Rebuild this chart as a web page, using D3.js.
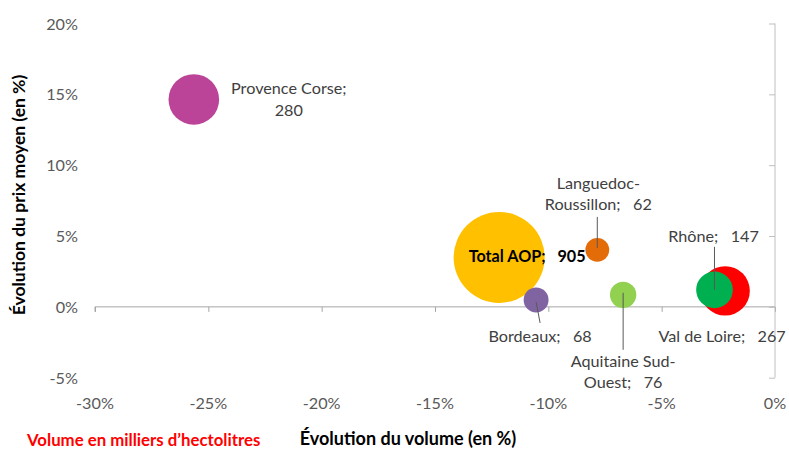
<!DOCTYPE html>
<html><head><meta charset="utf-8">
<script src="https://cdn.jsdelivr.net/npm/d3@7"></script>
<style>
html,body{margin:0;padding:0;background:#fff;}
svg{display:block;font-family:Lato,"Open Sans",sans-serif;}
text{white-space:pre;}
</style></head>
<body><svg id="chart" width="789" height="449"></svg>
<script>
// ---- data ----
const regions = ["Total AOP","Provence Corse","Languedoc-Roussillon","Bordeaux","Aquitaine Sud-Ouest","Val de Loire","Rhône"];
const volumeChange = [-12.17, -25.64, -7.84, -10.54, -6.7, -2.2, -2.67];   // % (x)
const priceChange  = [3.49, 14.64, 4.02, 0.49, 0.85, 1.13, 1.2];          // % (y)
const volumes      = [905, 280, 62, 68, 76, 267, 147];                     // milliers d'hl
const labelLines   = [["Total AOP;   905"],["Provence Corse;","280"],["Languedoc-","Roussillon;   62"],["Bordeaux;   68"],["Aquitaine Sud-","Ouest;   76"],["Val de Loire;   267"],["Rhône;   147"]];
const xTicks = [-30,-25,-20,-15,-10,-5,0];
const yTicks = [-5,0,5,10,15,20];
const colors = ["#FFC000","#BB4499","#E36C09","#8064A2","#92D050","#FF0000","#00B050"];

// ---- layout ----
const labelLayout = [
  {dx:28, dy:5, bold:true},
  {dx:95, dy:-5},
  {dx:1, dy:-61, leader:[0,-33,0,-2]},
  {dx:4, dy:42, leader:[4,23,0,2]},
  {dx:0, dy:72, leader:[0,55,0,-2]},
  {dx:-3, dy:51},
  {dx:-1, dy:-48, leader:[0,-43,0,0]}
];
const FS = 16.2;

const svg = d3.select("#chart");
const x = d3.scaleLinear().domain([-30,0]).range([95,775]);
const y = d3.scaleLinear().domain([-5,20]).range([377.7,23.5]);
const r = d3.scaleSqrt().domain([0,905]).range([0,45.5]);

const xAxis = svg.append("g").attr("transform",`translate(0,${y(0)})`)
  .call(d3.axisBottom(x).tickValues(xTicks).tickSize(5).tickFormat(""));
xAxis.select(".domain").attr("stroke","#A6A6A6").attr("d",`M${x(-30)},5V0H${x(0)}`);
xAxis.selectAll(".tick line").attr("stroke","#A6A6A6");

const yAxis = svg.append("g").attr("transform",`translate(${x(0)},0)`)
  .call(d3.axisLeft(y).tickValues(yTicks).tickSize(6).tickFormat(""));
yAxis.select(".domain").attr("stroke","#BFBFBF").attr("d",`M0,${y(20)}V${y(-5)}`);
yAxis.selectAll(".tick line").attr("stroke","#BFBFBF");

svg.append("g").selectAll("text").data(yTicks).join("text")
  .attr("x",78).attr("y",d=>y(d)+6).attr("text-anchor","end")
  .attr("font-size",FS).attr("fill","#595959").text(d=>d+"%");
svg.append("g").selectAll("text").data(xTicks).join("text")
  .attr("x",d=>x(d)).attr("y",409).attr("text-anchor","middle")
  .attr("font-size",FS).attr("fill","#595959").text(d=>d+"%");

const idx = d3.range(regions.length);
svg.append("g").selectAll("circle").data(idx).join("circle")
  .attr("cx",i=>x(volumeChange[i])).attr("cy",i=>y(priceChange[i]))
  .attr("r",i=>r(volumes[i])).attr("fill",i=>colors[i]);

svg.append("g").selectAll("line").data(idx.filter(i=>labelLayout[i].leader)).join("line")
  .attr("x1",i=>x(volumeChange[i])+labelLayout[i].leader[0])
  .attr("y1",i=>y(priceChange[i])+labelLayout[i].leader[1])
  .attr("x2",i=>x(volumeChange[i])+labelLayout[i].leader[2])
  .attr("y2",i=>y(priceChange[i])+labelLayout[i].leader[3])
  .attr("stroke","#595959").attr("stroke-width",1);

const lg = svg.append("g");
idx.forEach(i=>{
  const L = labelLayout[i];
  const t = lg.append("text").attr("text-anchor","middle").attr("font-size",FS)
    .attr("fill", L.bold ? "#000" : "#404040").attr("font-weight", L.bold ? "bold":"normal");
  labelLines[i].forEach((s,k)=>{
    t.append("tspan").attr("x",x(volumeChange[i])+L.dx)
      .attr("y",y(priceChange[i])+L.dy+k*21.5).text(s);
  });
});

svg.append("text").attr("transform","translate(25,195) rotate(-90)")
  .attr("text-anchor","middle").attr("font-size",17.5).attr("font-weight","bold")
  .attr("fill","#000").text("Évolution du prix moyen (en %)");
svg.append("text").attr("x",408).attr("y",445).attr("text-anchor","middle")
  .attr("font-size",18).attr("font-weight","bold").attr("fill","#000")
  .text("Évolution du volume (en %)");
svg.append("text").attr("x",27).attr("y",446)
  .attr("font-size",16.8).attr("font-weight","bold").attr("fill","#FF0000")
  .text("Volume en milliers d’hectolitres");
</script></body></html>
